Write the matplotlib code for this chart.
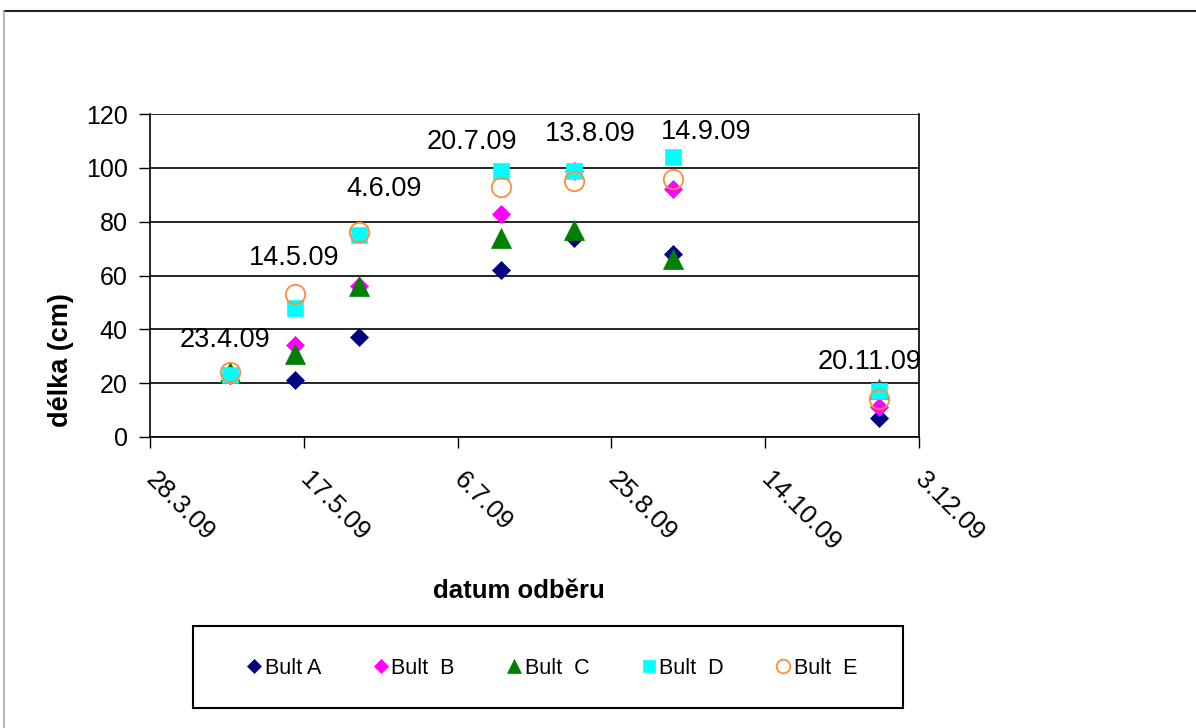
import datetime as dt
import matplotlib
matplotlib.use("Agg")
import matplotlib.pyplot as plt
import matplotlib.dates as mdates
from matplotlib.lines import Line2D
from matplotlib.patches import Rectangle
from matplotlib.ticker import FuncFormatter, FixedLocator

plt.rcParams['font.family'] = ['Liberation Sans', 'DejaVu Sans']

# ---- data ----
dates = ["2009-04-23", "2009-05-14", "2009-06-04", "2009-07-20",
         "2009-08-13", "2009-09-14", "2009-11-20"]
date_labels = ["23.4.09", "14.5.09", "4.6.09", "20.7.09", "13.8.09", "14.9.09", "20.11.09"]
bult_a = [23, 21, 37, 62, 74, 68, 7]
bult_b = [23, 34, 56, 83, 99, 92, 11]
bult_c = [24, 31, 56, 74, 77, 66, 18]
bult_d = [23, 48, 75, 99, 99, 104, 17]
bult_e = [24, 53, 76, 93, 95, 96, 14]
series_names = ["Bult A", "Bult  B", "Bult  C", "Bult  D", "Bult  E"]
y_ticks = [0, 20, 40, 60, 80, 100, 120]
x_tick_dates = ["2009-03-28", "2009-05-17", "2009-07-06", "2009-08-25",
                "2009-10-14", "2009-12-03"]

# ---- layout (not data) ----
label_y = [36, 66.5, 92, 109.5, 112.7, 113.4, 28]
label_dx_days = [-1.6, 0, 8, -9.5, 5, 10.7, -3.2]

W, H = 1196, 728
fig = plt.figure(figsize=(W / 100, H / 100), dpi=100)
fig.patch.set_facecolor("white")

ax = fig.add_axes([150 / W, 1 - 437 / H, (919 - 150) / W, (437 - 114) / H])

def d2n(s):
    return mdates.date2num(dt.datetime.strptime(s, "%Y-%m-%d"))

x = [d2n(d) for d in dates]
xt = [d2n(d) for d in x_tick_dates]

styles = [
    dict(marker="D", color="#000080", ms=9.5, mec="#000080"),
    dict(marker="D", color="#FF00FF", ms=9.5, mec="#FF00FF"),
    dict(marker="^", color="#008000", ms=14, mec="#008000"),
    dict(marker="s", color="#00FFFF", ms=12, mec="#00FFFF"),
    dict(marker="o", color="none", ms=14, mec="#FF8C3A", mew=1.3),
]
handles = []
for vals, st, name in zip([bult_a, bult_b, bult_c, bult_d, bult_e], styles, series_names):
    h, = ax.plot(x, vals, linestyle="none", marker=st["marker"], ms=st["ms"],
                 mfc=st["color"], mec=st["mec"], mew=st.get("mew", 0.5),
                 label=name, zorder=3, clip_on=False)
    handles.append(h)

for xi, lab, ly, dx in zip(x, date_labels, label_y, label_dx_days):
    ax.text(xi + dx, ly, lab, ha="center", va="center", fontsize=19.5, color="black", zorder=4)

ax.set_xlim(xt[0], xt[-1])
ax.set_ylim(0, 120)
ax.set_yticks(y_ticks)
ax.xaxis.set_major_locator(FixedLocator(xt))
ax.xaxis.set_major_formatter(FuncFormatter(
    lambda v, p: (lambda d: f"{d.day}.{d.month}.{d:%y}")(mdates.num2date(v))))
ax.grid(axis="y", color="black", linewidth=1.2)
ax.set_axisbelow(True)
for s in ["left", "right", "bottom"]:
    ax.spines[s].set_color("black")
    ax.spines[s].set_linewidth(1.2)
ax.spines["top"].set_visible(False)
ax.tick_params(axis="both", direction="out", length=8, width=1.0, colors="black", labelsize=18)
ax.tick_params(axis="y", pad=8)
ax.tick_params(axis="x", pad=20, labelsize=18.5)
for t in ax.get_xticklabels():
    t.set_rotation(-45)
    t.set_ha("left")
    t.set_va("center")
    t.set_rotation_mode("anchor")

fig.text(61 / W, 1 - 360 / H, "délka (cm)", rotation=90, ha="center", va="center",
         fontsize=19.5, fontweight="bold")
fig.text(519 / W, 1 - 591 / H, "datum odběru", ha="center", va="center",
         fontsize=18.5, fontweight="bold")

# legend
fig.add_artist(Rectangle((193 / W, 1 - 708 / H), (903 - 193) / W, (708 - 626) / H,
                         transform=fig.transFigure, fill=False, edgecolor="black", linewidth=1.5))
leg = fig.legend(handles=handles, loc="center", bbox_to_anchor=(552 / W, 1 - 668 / H),
                 ncol=5, frameon=False, fontsize=15.5, handlelength=0.7, handletextpad=0.15,
                 columnspacing=2.4, markerscale=0.7)

# outer chart frame
fig.add_artist(Line2D([4 / W, 1], [1 - 11 / H, 1 - 11 / H], transform=fig.transFigure,
                      color="#222222", linewidth=1.5))
fig.add_artist(Line2D([4 / W, 4 / W], [0, 1 - 11 / H], transform=fig.transFigure,
                      color="#AAAAAA", linewidth=1.2))

fig.savefig("out.png", dpi=100, facecolor="white")
